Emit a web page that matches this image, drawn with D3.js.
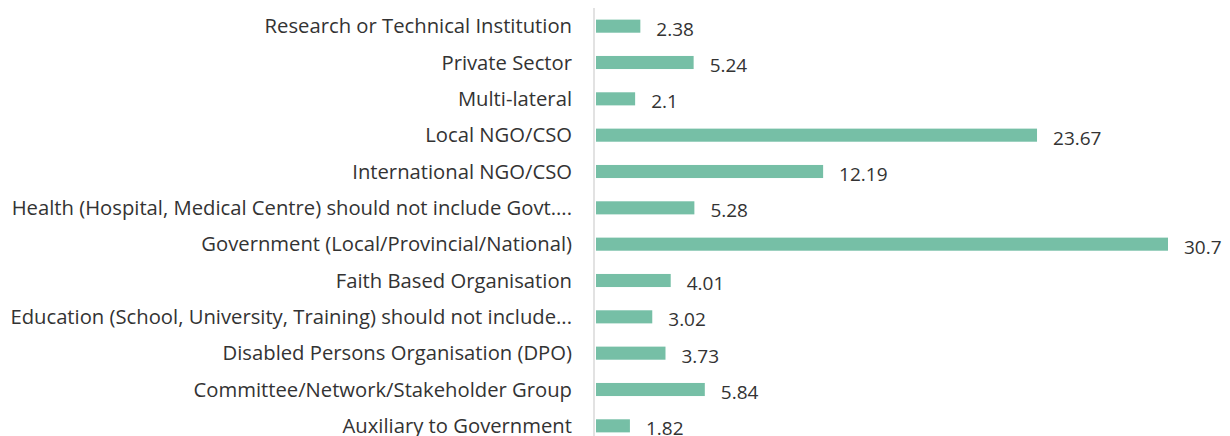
<!DOCTYPE html>
<html><head><meta charset="utf-8">
<script src="https://cdn.jsdelivr.net/npm/d3@7"></script>
<style>body{margin:0;background:#fff}svg{display:block}</style>
</head><body>
<svg id="c" width="1230" height="436"></svg>
<script>
const categories = [
  "Research or Technical Institution",
  "Private Sector",
  "Multi-lateral ",
  "Local NGO/CSO",
  "International NGO/CSO",
  "Health (Hospital, Medical Centre) should not include Govt....",
  "Government (Local/Provincial/National)",
  "Faith Based Organisation",
  "Education (School, University, Training) should not include...",
  "Disabled Persons Organisation (DPO)",
  "Committee/Network/Stakeholder Group",
  "Auxiliary to Government"
];
const values = [2.38, 5.24, 2.1, 23.67, 12.19, 5.28, 30.7, 4.01, 3.02, 3.73, 5.84, 1.82];
const valueLabels = ["2.38","5.24","2.1","23.67","12.19","5.28","30.7","4.01","3.02","3.73","5.84","1.82"];

const svg = d3.select("#c");
const x0 = 596, y0 = 8, y1 = 444;
const x = d3.scaleLinear().domain([0, 30.7]).range([x0, 1168]);
const y = d3.scaleBand().domain(categories).range([y0, y1]).paddingInner(0.64).paddingOuter(0.32);
const font = "'Open Sans', 'Noto Sans', sans-serif";
const col = "#333333";

svg.append("line").attr("x1", x0 - 2).attr("x2", x0 - 2).attr("y1", y0).attr("y2", 436)
  .attr("stroke", "#d9d9d9").attr("stroke-width", 1.5);

svg.selectAll("rect.bar").data(categories).join("rect").attr("class","bar")
  .attr("x", x(0)).attr("y", d => y(d))
  .attr("width", (d,i) => x(values[i]) - x(0)).attr("height", y.bandwidth())
  .attr("fill", "#76bfa6");

const cats = svg.selectAll("text.cat").data(categories).join("text").attr("class","cat")
  .attr("x", 572).attr("y", d => y(d) + y.bandwidth()/2).attr("dy","0.35em")
  .attr("text-anchor","end").attr("font-family", font).attr("font-size", 18)
  .attr("fill", col).text(d => d);
// fit the longest label into the available left margin (x 10..572)
let maxW = 0;
cats.each(function(){ maxW = Math.max(maxW, this.getComputedTextLength()); });
const fs = 18 * 562 / maxW;
cats.attr("font-size", fs);

svg.selectAll("text.val").data(categories).join("text").attr("class","val")
  .attr("x", (d,i) => x(values[i]) + 16).attr("y", d => y(d) + y.bandwidth()/2 + 3).attr("dy","0.35em")
  .attr("font-family", font).attr("font-size", 19)
  .attr("fill", col).text((d,i) => valueLabels[i]);
</script>
</body></html>
